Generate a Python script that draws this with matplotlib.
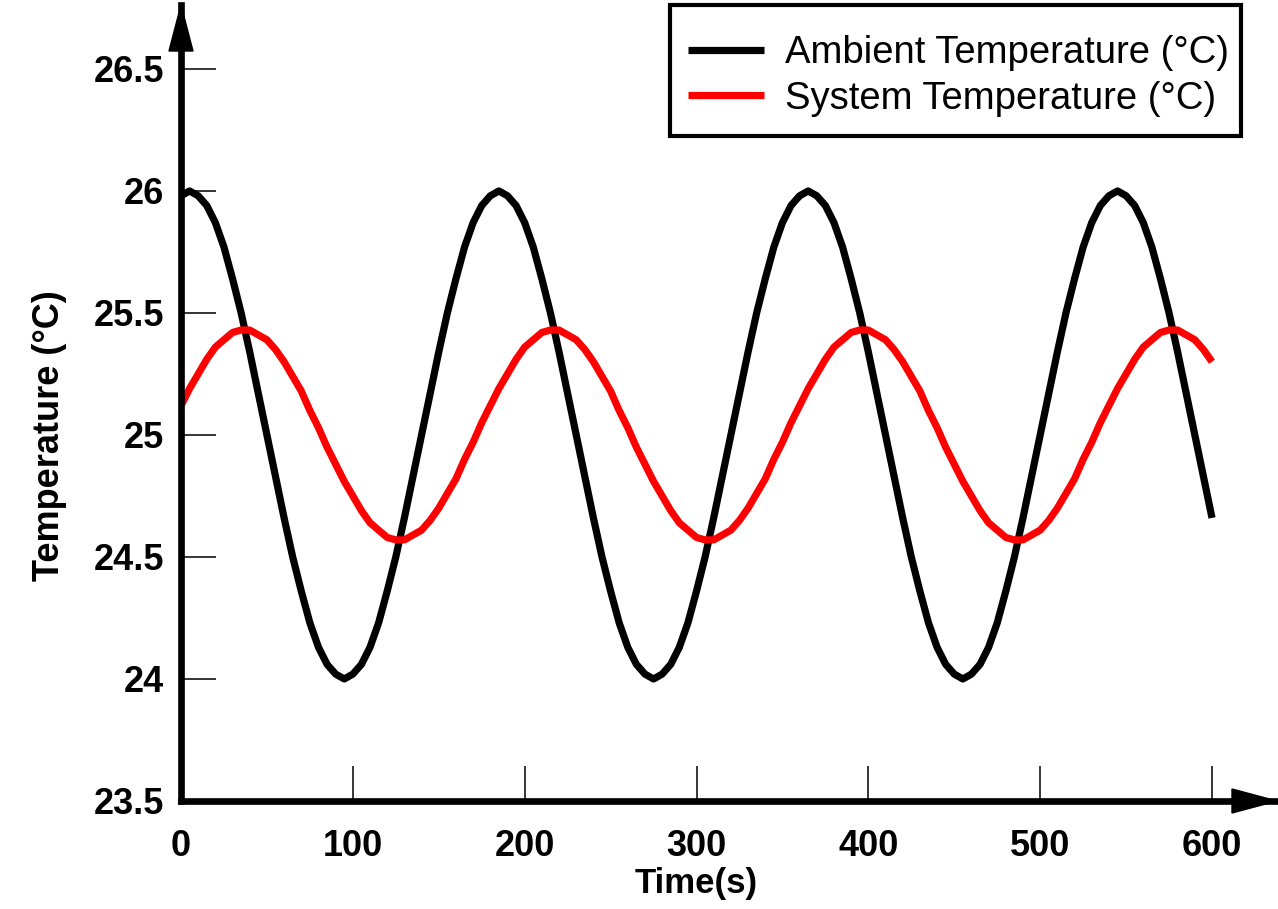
import matplotlib.pyplot as plt
from matplotlib.patches import Polygon, Rectangle

plt.rcParams['font.family'] = 'Liberation Sans'

# sampled every 5 s
time_s = list(range(0, 601, 5))

ambient_temp = [
    25.98, 26.00, 25.98, 25.94, 25.87, 25.77, 25.64, 25.50, 25.34, 25.17, 25.00, 24.83,
    24.66, 24.50, 24.36, 24.23, 24.13, 24.06, 24.02, 24.00, 24.02, 24.06, 24.13, 24.23,
    24.36, 24.50, 24.66, 24.83, 25.00, 25.17, 25.34, 25.50, 25.64, 25.77, 25.87, 25.94,
    25.98, 26.00, 25.98, 25.94, 25.87, 25.77, 25.64, 25.50, 25.34, 25.17, 25.00, 24.83,
    24.66, 24.50, 24.36, 24.23, 24.13, 24.06, 24.02, 24.00, 24.02, 24.06, 24.13, 24.23,
    24.36, 24.50, 24.66, 24.83, 25.00, 25.17, 25.34, 25.50, 25.64, 25.77, 25.87, 25.94,
    25.98, 26.00, 25.98, 25.94, 25.87, 25.77, 25.64, 25.50, 25.34, 25.17, 25.00, 24.83,
    24.66, 24.50, 24.36, 24.23, 24.13, 24.06, 24.02, 24.00, 24.02, 24.06, 24.13, 24.23,
    24.36, 24.50, 24.66, 24.83, 25.00, 25.17, 25.34, 25.50, 25.64, 25.77, 25.87, 25.94,
    25.98, 26.00, 25.98, 25.94, 25.87, 25.77, 25.64, 25.50, 25.34, 25.17, 25.00, 24.83,
    24.66,
]

system_temp = [
    25.12, 25.19, 25.25, 25.31, 25.36, 25.39, 25.42, 25.43, 25.43, 25.41, 25.39, 25.35,
    25.30, 25.24, 25.18, 25.10, 25.03, 24.95, 24.88, 24.81, 24.75, 24.69, 24.64, 24.61,
    24.58, 24.57, 24.57, 24.59, 24.61, 24.65, 24.70, 24.76, 24.82, 24.90, 24.97, 25.05,
    25.12, 25.19, 25.25, 25.31, 25.36, 25.39, 25.42, 25.43, 25.43, 25.41, 25.39, 25.35,
    25.30, 25.24, 25.18, 25.10, 25.03, 24.95, 24.88, 24.81, 24.75, 24.69, 24.64, 24.61,
    24.58, 24.57, 24.57, 24.59, 24.61, 24.65, 24.70, 24.76, 24.82, 24.90, 24.97, 25.05,
    25.12, 25.19, 25.25, 25.31, 25.36, 25.39, 25.42, 25.43, 25.43, 25.41, 25.39, 25.35,
    25.30, 25.24, 25.18, 25.10, 25.03, 24.95, 24.88, 24.81, 24.75, 24.69, 24.64, 24.61,
    24.58, 24.57, 24.57, 24.59, 24.61, 24.65, 24.70, 24.76, 24.82, 24.90, 24.97, 25.05,
    25.12, 25.19, 25.25, 25.31, 25.36, 25.39, 25.42, 25.43, 25.43, 25.41, 25.39, 25.35,
    25.30,
]

x_ticks = [0, 100, 200, 300, 400, 500, 600]
x_tick_labels = ['0', '100', '200', '300', '400', '500', '600']
y_ticks = [23.5, 24, 24.5, 25, 25.5, 26, 26.5]
y_tick_labels = ['23.5', '24', '24.5', '25', '25.5', '26', '26.5']

W, H = 1278, 909
ax_w, ax_h = 1097, 796

fig = plt.figure(figsize=(W / 100, H / 100), dpi=100)
ax = fig.add_axes([181 / W, 108 / H, ax_w / W, ax_h / H])

ax.plot(time_s, ambient_temp, color='black', lw=5.2, solid_capstyle='butt',
        solid_joinstyle='round', label='Ambient Temperature (°C)')
ax.plot(time_s, system_temp, color='red', lw=5.2, solid_capstyle='butt',
        solid_joinstyle='round', label='System Temperature (°C)')

ax.set_xlim(0, 638.4)
ax.set_ylim(23.5, 26.762)

ax.set_xticks(x_ticks, x_tick_labels, fontsize=26, fontweight='bold')
ax.set_yticks(y_ticks, y_tick_labels, fontsize=26, fontweight='bold')
ax.tick_params(direction='in', length=25, width=1.1, color='black')
ax.tick_params(axis='x', pad=20)
ax.tick_params(axis='y', pad=12)

for side in ['top', 'right']:
    ax.spines[side].set_visible(False)
for side in ['left', 'bottom']:
    ax.spines[side].set_linewidth(4.8)
    ax.spines[side].set_capstyle('projecting')

# arrow heads on both axes
xa = Polygon([(1 - 46 / ax_w, -12 / ax_h), (1 - 1 / ax_w, 0), (1 - 46 / ax_w, 12 / ax_h)],
             closed=True, color='black', transform=ax.transAxes, clip_on=False, zorder=5)
ya = Polygon([(-12 / ax_w, 1 - 46 / ax_h), (0, 1), (12 / ax_w, 1 - 46 / ax_h)],
             closed=True, color='black', transform=ax.transAxes, clip_on=False, zorder=5)
ax.add_patch(xa)
ax.add_patch(ya)

ax.set_xlabel('Time(s)', fontsize=25, fontweight='bold')
ax.xaxis.set_label_coords(300 / 638.4, -0.083)
ax.set_ylabel('Temperature (°C)', fontsize=26, fontweight='bold')
ax.yaxis.set_label_coords(-0.104, 0.4585)

# legend entries without frame, box drawn separately (tighter sides, taller)
leg = ax.legend(loc='upper left', bbox_to_anchor=(662 / W, 900 / H),
                bbox_transform=fig.transFigure, fontsize=27.5, frameon=False,
                handlelength=2.0, handletextpad=0.55, borderpad=0.68,
                labelspacing=0.25, borderaxespad=0)
fig.add_artist(Rectangle((670 / W, (909 - 135.5) / H), 571 / W, 130 / H,
                         transform=fig.transFigure, fill=False,
                         edgecolor='black', linewidth=3))

fig.savefig('out.png', dpi=100)
